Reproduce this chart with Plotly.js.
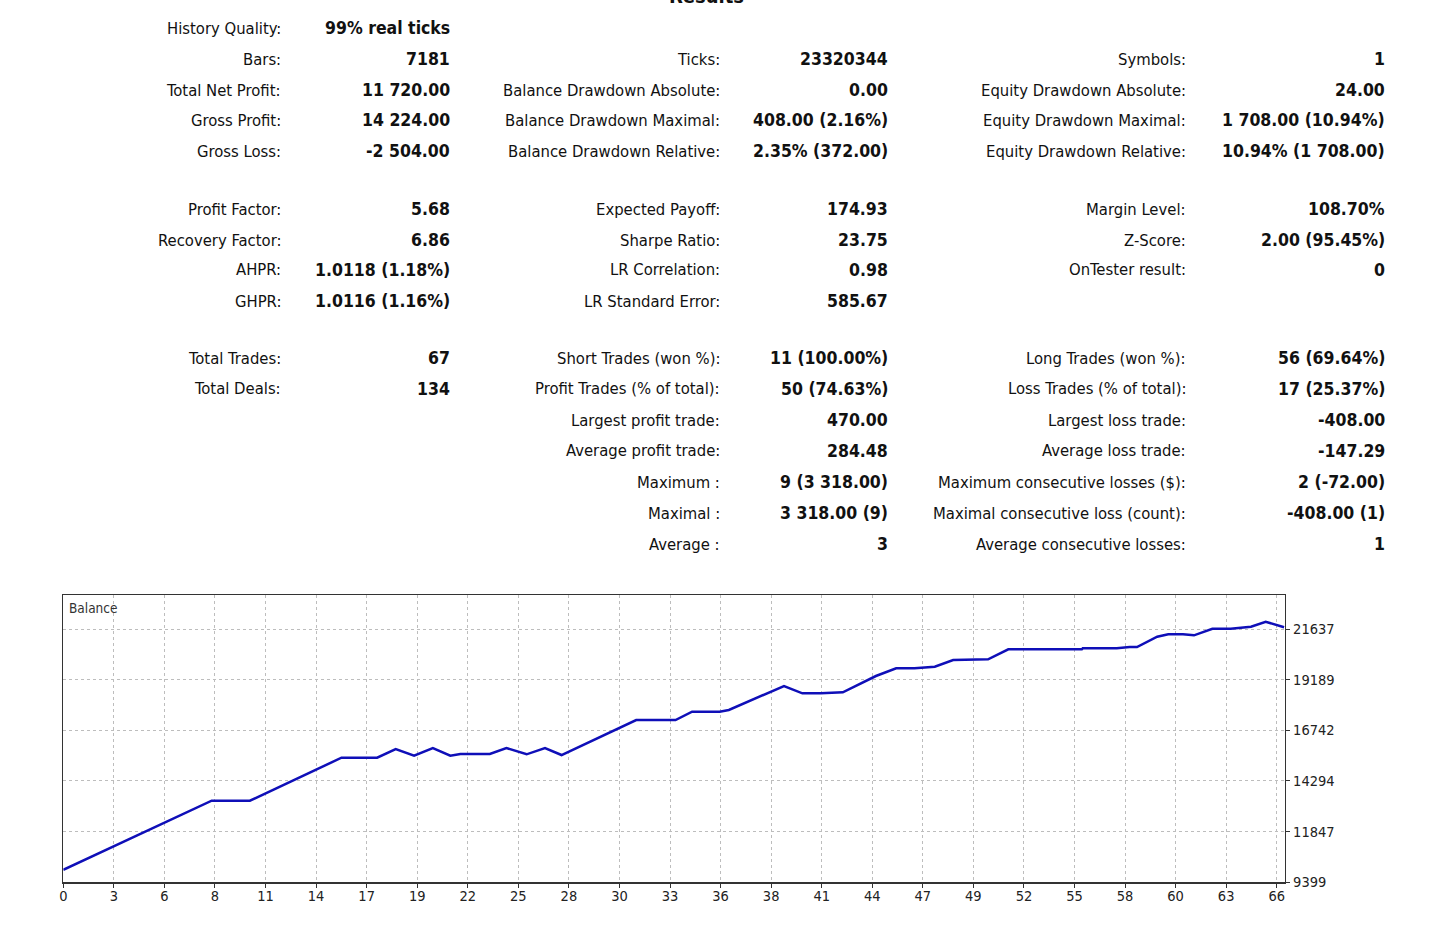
<!DOCTYPE html>
<html>
<head>
<meta charset="utf-8">
<script src="https://cdn.plot.ly/plotly-3.0.1.min.js"></script>
<style>
  html, body { margin: 0; padding: 0; background: #fff; }
  #chart { width: 1445px; height: 930px; }
</style>
</head>
<body>
<div id="chart"></div>
<script>
// ---- Balance curve (x in trade units) ----
const tradeX = [0, 8.07, 10.15, 15.13, 17.07, 18.08, 19.08, 20.1, 21.05, 21.6, 23.2, 24.1, 25.2, 26.2, 27.1,
  31.16, 33.3, 34.2, 35.7, 36.2, 39.2, 40.2, 41.2, 42.4, 44.2, 45.3, 46.3, 47.4, 48.4, 50.3, 51.4,
  55.4, 55.45, 57.3, 58.0, 58.4, 59.5, 60.1, 60.9, 61.5, 62.5, 63.5, 64.6, 65.4, 66.4];
const balance = [10000, 13341, 13341, 15418, 15418, 15839, 15515, 15887, 15515, 15597, 15597, 15887, 15583, 15887, 15549,
  17240, 17240, 17641, 17641, 17723, 18882, 18530, 18530, 18578, 19366, 19737, 19737, 19815, 20138, 20172, 20655,
  20655, 20703, 20703, 20766, 20766, 21264, 21380, 21380, 21331, 21650, 21650, 21747, 21989, 21720];

// ---- Axis ticks ----
const xTickLabels = ["0","3","6","8","11","14","17","19","22","25","28","30","33","36","38","41","44","47","49","52","55","58","60","63","66"];
const xTickStep = 2.75;
const yTickVals = [9399, 11847, 14294, 16742, 19189, 21637];
const yTickLabels = ["9399", "11847", "14294", "16742", "19189", "21637"];
const yRange = [9399, 23280];
const xRange = [0, 66.45];

// ---- Results table ----
const reportTitle = "Results";
const col1Labels = ["History Quality:", "Bars:", "Total Net Profit:", "Gross Profit:", "Gross Loss:",
  "Profit Factor:", "Recovery Factor:", "AHPR:", "GHPR:",
  "Total Trades:", "Total Deals:", "", "", "", "", ""];
const col1Values = ["99% real ticks", "7181", "11 720.00", "14 224.00", "-2 504.00",
  "5.68", "6.86", "1.0118 (1.18%)", "1.0116 (1.16%)",
  "67", "134", "", "", "", "", ""];
const col2Labels = ["", "Ticks:", "Balance Drawdown Absolute:", "Balance Drawdown Maximal:", "Balance Drawdown Relative:",
  "Expected Payoff:", "Sharpe Ratio:", "LR Correlation:", "LR Standard Error:",
  "Short Trades (won %):", "Profit Trades (% of total):", "Largest profit trade:", "Average profit trade:",
  "Maximum :", "Maximal :", "Average :"];
const col2Values = ["", "23320344", "0.00", "408.00 (2.16%)", "2.35% (372.00)",
  "174.93", "23.75", "0.98", "585.67",
  "11 (100.00%)", "50 (74.63%)", "470.00", "284.48",
  "9 (3 318.00)", "3 318.00 (9)", "3"];
const col3Labels = ["", "Symbols:", "Equity Drawdown Absolute:", "Equity Drawdown Maximal:", "Equity Drawdown Relative:",
  "Margin Level:", "Z-Score:", "OnTester result:", "",
  "Long Trades (won %):", "Loss Trades (% of total):", "Largest loss trade:", "Average loss trade:",
  "Maximum consecutive losses ($):", "Maximal consecutive loss (count):", "Average consecutive losses:"];
const col3Values = ["", "1", "24.00", "1 708.00 (10.94%)", "10.94% (1 708.00)",
  "108.70%", "2.00 (95.45%)", "0", "",
  "56 (69.64%)", "17 (25.37%)", "-408.00", "-147.29",
  "2 (-72.00)", "-408.00 (1)", "1"];

// ---- Layout helpers (pixel geometry) ----
const W = 1445, H = 930;
const rowY = [28, 59, 90, 120, 151, 209, 240, 270, 301, 358, 389, 420, 451, 482, 513, 544];
const colRight = [283, 452, 722, 890, 1188, 1387];
const FONT = "DejaVu Sans Condensed, DejaVu Sans, sans-serif";
const txtColor = "#111";

const annotations = [];
function addText(txt, xpx, ypx, bold) {
  if (!txt) return;
  annotations.push({
    xref: "paper", yref: "paper", x: xpx / W, y: 1 - ypx / H,
    xanchor: "right", yanchor: "middle", showarrow: false,
    text: bold ? "<b>" + txt + "</b>" : txt,
    font: { family: FONT, size: bold ? 17.5 : 16.5, color: txtColor }
  });
}
const cols = [[col1Labels, col1Values], [col2Labels, col2Values], [col3Labels, col3Values]];
cols.forEach((c, ci) => {
  c[0].forEach((lab, i) => {
    addText(lab, colRight[ci * 2], rowY[i], false);
    addText(c[1][i], colRight[ci * 2 + 1], rowY[i], true);
  });
});
annotations.push({
  xref: "paper", yref: "paper", x: 706 / W, y: 1 - 10 / H,
  xanchor: "center", yanchor: "bottom", showarrow: false,
  text: "<b>" + reportTitle + "</b>",
  font: { family: FONT, size: 20, color: txtColor }
});
annotations.push({
  xref: "paper", yref: "paper", x: 67 / W, y: 1 - 608 / H,
  xanchor: "left", yanchor: "middle", showarrow: false,
  text: "Balance",
  font: { family: FONT, size: 13.5, color: "#333" }
});

const plotL = 63.3, plotR = 1285, plotT = 595, plotB = 882.3;

const trace = {
  x: tradeX, y: balance, type: "scatter", mode: "lines",
  line: { color: "#0f0fb8", width: 2.5, shape: "linear" },
  hoverinfo: "skip", showlegend: false
};

const xTickVals = xTickLabels.map((_, i) => i * xTickStep);

const layout = {
  width: W, height: H,
  margin: { l: 0, r: 0, t: 0, b: 0 },
  paper_bgcolor: "#fff", plot_bgcolor: "#fff",
  showlegend: false,
  xaxis: {
    domain: [plotL / W, plotR / W],
    range: xRange, tickmode: "array", tickvals: xTickVals, ticktext: xTickLabels,
    showgrid: true, gridcolor: "#bdbdbd", griddash: "3px,3px", gridwidth: 1,
    zeroline: false, showline: true, linecolor: "#333", linewidth: 1.2, mirror: true,
    ticks: "outside", ticklen: 4, tickcolor: "#333", ticklabelstandoff: -4,
    tickfont: { family: FONT, size: 14.5, color: "#222" }, fixedrange: true
  },
  yaxis: {
    domain: [1 - plotB / H, 1 - plotT / H],
    range: yRange, tickmode: "array", tickvals: yTickVals, ticktext: yTickLabels, side: "right",
    showgrid: true, gridcolor: "#bdbdbd", griddash: "3px,3px", gridwidth: 1,
    zeroline: false, showline: true, linecolor: "#333", linewidth: 1.2, mirror: true,
    ticks: "outside", ticklen: 4, tickcolor: "#333",
    tickfont: { family: FONT, size: 14.5, color: "#222" }, fixedrange: true
  },
  annotations: annotations,
  hovermode: false
};

Plotly.newPlot("chart", [trace], layout, { displayModeBar: false, staticPlot: true });
</script>
</body>
</html>
